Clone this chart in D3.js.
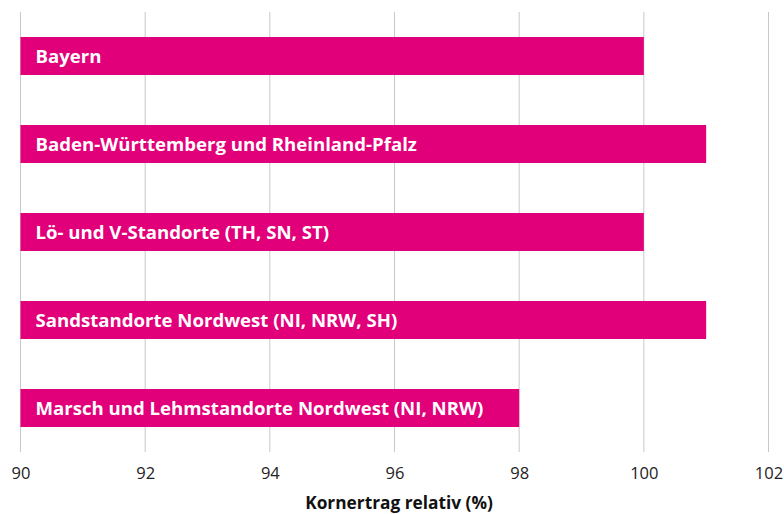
<!DOCTYPE html>
<html>
<head>
<meta charset="utf-8">
<script src="https://cdn.jsdelivr.net/npm/d3@7"></script>
<style>
	body { margin: 0; background: #fff; }
	svg { display: block; font-family: "Open Sans", sans-serif; }
</style>
</head>
<body>
<svg id="chart" width="784" height="514"></svg>
<script>
// Regionen und relativer Kornertrag (%)
const regions = [
	"Bayern",
	"Baden-Württemberg und Rheinland-Pfalz",
	"Lö- und V-Standorte (TH, SN, ST)",
	"Sandstandorte Nordwest (NI, NRW, SH)",
	"Marsch und Lehmstandorte Nordwest (NI, NRW)"
];
const yieldValues = [100, 101, 100, 101, 98];
const xTicks = [90, 92, 94, 96, 98, 100, 102];
const xTitle = "Kornertrag relativ (%)";

const data = regions.map((r, i) => ({ region: r, value: yieldValues[i] }));

const svg = d3.select("#chart");
const margin = { top: 12, left: 20.5, right: 15.5, bottom: 62 };
const width = 784 - margin.left - margin.right;
const height = 514 - margin.top - margin.bottom;

const g = svg.append("g").attr("transform", `translate(${margin.left},${margin.top})`);

const x = d3.scaleLinear().domain([90, 102]).range([0, width]);
const y = d3.scaleBand().domain(regions).range([0, height]).paddingInner(0.568).paddingOuter(0.284);

// Gitterlinien
g.selectAll("line.grid")
	.data(xTicks)
	.join("line")
	.attr("class", "grid")
	.attr("x1", d => x(d)).attr("x2", d => x(d))
	.attr("y1", 0).attr("y2", height)
	.attr("stroke", "#c8c8c8")
	.attr("stroke-width", 1);

// Balken
g.selectAll("rect.bar")
	.data(data)
	.join("rect")
	.attr("class", "bar")
	.attr("x", x(90))
	.attr("y", d => y(d.region))
	.attr("width", d => x(d.value) - x(90))
	.attr("height", y.bandwidth())
	.attr("fill", "#e2007a");

g.selectAll("text.label")
	.data(data)
	.join("text")
	.attr("class", "label")
	.attr("x", x(90) + 15)
	.attr("y", d => y(d.region) + y.bandwidth() / 2)
	.attr("dy", "0.35em")
	.attr("fill", "#fff")
	.attr("font-size", 18.6)
	.attr("font-weight", 700)
	.text(d => d.region);

// x-Achse
const xAxis = g.append("g")
	.attr("transform", `translate(0,${height})`)
	.call(d3.axisBottom(x).tickValues(xTicks).tickSize(0).tickPadding(15));
xAxis.select(".domain").remove();
xAxis.selectAll("text")
	.attr("font-size", 16.5)
	.attr("font-family", "Open Sans, sans-serif")
	.attr("fill", "#222");

svg.append("text")
	.attr("x", margin.left + width / 2 + 4.5)
	.attr("y", 509)
	.attr("text-anchor", "middle")
	.attr("font-size", 17.3)
	.attr("font-weight", 700)
	.attr("fill", "#111")
	.text(xTitle);
</script>
</body>
</html>
